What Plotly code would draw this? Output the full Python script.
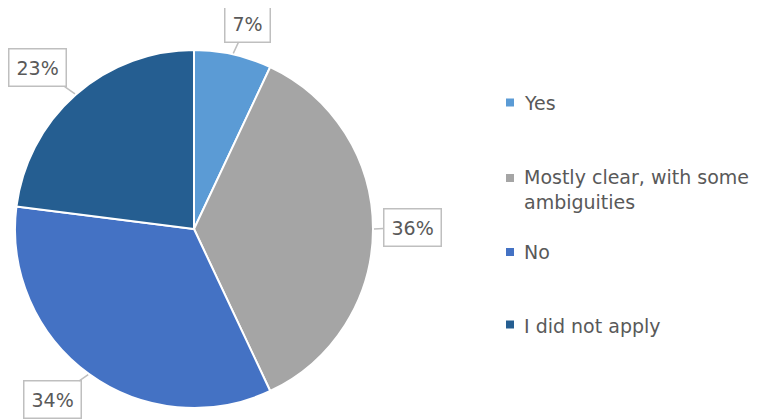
import math
import plotly.graph_objects as go

# ---- data ----
categories = ["Yes", "Mostly clear, with some ambiguities", "No", "I did not apply"]
values = [7, 36, 34, 23]
legend_text = ["Yes", "Mostly clear, with some<br>ambiguities", "No", "I did not apply"]
colors = ["#5B9BD5", "#A5A5A5", "#4472C4", "#255E91"]

# ---- layout geometry (screen pixels; page body adds an 8px offset) ----
VW, VH = 757, 419
OFF = 8
W, H = VW - OFF, VH - OFF


def px2x(px):
    return (px - OFF) / W


def py2y(py):
    return 1 - (py - OFF) / H


PIE_L, PIE_R, PIE_T, PIE_B = 15, 373, 49, 409
cx, cy = (PIE_L + PIE_R) / 2, (PIE_T + PIE_B) / 2
rad = min(PIE_R - PIE_L, PIE_B - PIE_T) / 2

label_offsets = [(14, -30), (38, -2), (-36, 25), (-37, -26)]
legend_y = [102.5, 189.5, 252, 325.5]
square_y = [102.5, 178, 252, 324.5]
FONT = "DejaVu Sans"
TXT = "#595959"
BORDER = "#BFBFBF"

fig = go.Figure(go.Pie(
    labels=categories,
    values=values,
    sort=False,
    direction="clockwise",
    rotation=0,
    marker=dict(colors=colors, line=dict(color="white", width=2)),
    textinfo="none",
    hoverinfo="label+percent",
    showlegend=False,
    domain=dict(x=[px2x(PIE_L), px2x(PIE_R)], y=[py2y(PIE_B), py2y(PIE_T)]),
))

total = sum(values)
annotations = []
shapes = []
cum = 0
for v, (ox, oy) in zip(values, label_offsets):
    theta = 2 * math.pi * (cum + v / 2) / total
    cum += v
    px = cx + (rad + 1) * math.sin(theta)
    py = cy - (rad + 1) * math.cos(theta)
    annotations.append(dict(
        x=px2x(px), y=py2y(py), xref="paper", yref="paper",
        text=f"{round(100 * v / total)}%",
        showarrow=True, arrowhead=0, arrowwidth=1.5, arrowcolor=BORDER,
        ax=ox, ay=oy,
        bordercolor=BORDER, borderwidth=1.5, borderpad=7, bgcolor="white",
        font=dict(family=FONT, size=19, color=TXT),
    ))

for txt, ly, sy, col in zip(legend_text, legend_y, square_y, colors):
    annotations.append(dict(
        x=px2x(522), y=py2y(ly), xref="paper", yref="paper",
        xanchor="left", yanchor="middle", align="left",
        text=txt, showarrow=False,
        font=dict(family=FONT, size=19, color=TXT),
    ))
    shapes.append(dict(
        type="rect", xref="paper", yref="paper",
        x0=px2x(506), x1=px2x(514), y0=py2y(sy + 4), y1=py2y(sy - 4),
        fillcolor=col, line=dict(width=0),
    ))

fig.update_layout(
    width=W, height=H,
    margin=dict(l=0, r=0, t=0, b=0),
    paper_bgcolor="white", plot_bgcolor="white",
    annotations=annotations, shapes=shapes,
    font=dict(family=FONT, color=TXT),
)

fig.write_html("out.html")
